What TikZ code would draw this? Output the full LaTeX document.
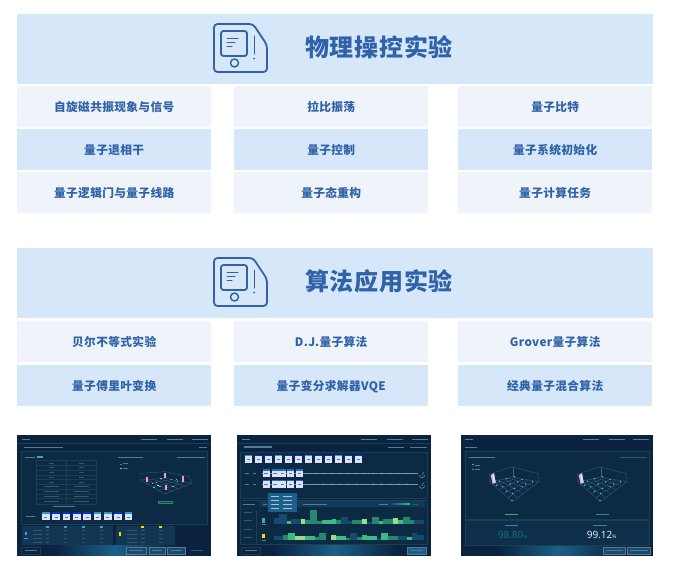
\documentclass[tikz,border=0pt]{standalone}
\usepackage{fontspec}
\newfontfamily\cjk[LetterSpace=3]{Noto Sans CJK SC}
\setmainfont{Noto Sans}
\definecolor{hdr}{HTML}{D5E7F8}
\definecolor{pale}{HTML}{EFF4FB}
\definecolor{ink}{HTML}{2F62A8}
\definecolor{scr}{HTML}{0B2340}
\definecolor{pan}{HTML}{0D2A45}
\definecolor{edge}{HTML}{17414F}
\definecolor{gre}{HTML}{4F7C96}
\definecolor{dkb}{HTML}{164A6E}
\definecolor{teal1}{HTML}{26876F}
\definecolor{grn}{HTML}{3DB985}
\definecolor{lgr}{HTML}{9ADB8E}
\definecolor{tip}{HTML}{1B5F8E}
\definecolor{glow}{HTML}{1C5F88}
\tikzset{
 band/.style={fill=hdr,draw=none,minimum width=636pt,minimum height=70pt,inner sep=0pt,anchor=north west},
 title/.style={font=\cjk\bfseries\fontsize{24}{26}\selectfont,text=ink,inner sep=0pt},
 cellbox/.style={draw=none,minimum width=194pt,minimum height=41pt,inner sep=0pt,anchor=north west,font=\cjk\bfseries\fontsize{11.7}{13}\selectfont,text=ink,text height=9pt,text depth=0.2pt},
 lite/.style={cellbox,fill=pale},
 deep/.style={cellbox,fill=hdr},
 iconl/.style={draw=ink,line width=1.8pt,line join=round,line cap=round},
 greek/.style={draw=gre,line width=0.8pt},
 dim/.style={draw=gre!60!scr,line width=0.8pt},
 panel/.style={draw=edge,fill=pan,line width=0.5pt},
 btn/.style={draw=edge!70!white,fill=dkb,line width=0.5pt},
 gatebox/.style={fill=white!88!blue,draw=none},
 gridl/.style={draw=gre!70!scr,line width=0.3pt},
 qgrid/.pic={
  \draw[gridl] (-70,-15)--(-70,-38)--(0,-60)--(78,-38)--(78,-15);
  \draw[gridl] (0,-60)--(0,-28);
  \foreach \i in {0,...,5}{
   \draw[gridl] ({-70+\i*14},{-15+\i*12})--({0+\i*15.6},{-28+\i*2.6});
   \draw[gridl] ({-70+\i*14},{-15-\i*2.6})--({0+\i*15.6},{45-\i*12});
  }
  \foreach \a/\b in {-40/-16,-18/-24,5/-30,28/-22,-30/0,-8/-8,15/-14,38/-8,60/-14,-18/14,5/6,28/0,-2/42,0/20,-48/-4}
   \fill[cyan!70!white] (\a,\b) circle (2.4);
 },
 deviceicon/.pic={
  \draw[iconl,rounded corners=3.5pt] (214,24)--(253,24)--(267,45)--(267,72)--(214,72)--cycle;
  \draw[iconl,rounded corners=2.5pt] (221,31) rectangle (247,56);
  \draw[iconl,line width=1pt] (227,38)--(238,38) (227,42)--(235,42) (227,46)--(232,46);
  \draw[iconl,line width=1.5pt] (234.5,63) circle (4);
  \draw[iconl,line width=1pt] (254,36)--(254,54);
  \fill[ink] (254,58.5) circle (1);
 },
}
\newcommand{\topbar}[4]{%
 \foreach \t in {#1,#2,#3}{\draw[greek] (\t,#4)--++(48,0);}
}
\begin{document}
\begin{tikzpicture}[x=1pt,y=-1pt]
\useasboundingbox (0,0) rectangle (682,573);
\fill[white] (0,0) rectangle (682,573);
% ---------- section 1
\node[band] (h1) at (17,14) {};
\node[title] (h1t) at (379,47.5) {物理操控实验};
\path pic {deviceicon};
\node[lite] (a1) at (17,86) {自旋磁共振现象与信号};
\node[lite] (a2) at (234,86) {拉比振荡};
\node[lite] (a3) at (458,86) {量子比特};
\node[deep] (b1) at (17,129) {量子退相干};
\node[deep] (b2) at (234,129) {量子控制};
\node[deep] (b3) at (458,129) {量子系统初始化};
\node[lite] (c1) at (17,172) {量子逻辑门与量子线路};
\node[lite] (c2) at (234,172) {量子态重构};
\node[lite] (c3) at (458,172) {量子计算任务};
% ---------- section 2
\node[band] (h2) at (17,248) {};
\node[title] (h2t) at (379,281.5) {算法应用实验};
\path pic at (0,234) {deviceicon};
\node[lite] (d1) at (17,321) {贝尔不等式实验};
\node[lite] (d2) at (234,321) {D.J.量子算法};
\node[lite] (d3) at (458,321) {Grover量子算法};
\node[deep] (e1) at (17,365) {量子傅里叶变换};
\node[deep] (e2) at (234,365) {量子变分求解器VQE};
\node[deep] (e3) at (458,365) {经典量子混合算法};
% ---------- screenshot 1
\begin{scope}[shift={(10,430)},x=0.3333pt,y=-0.3333pt]
 \fill[scr] (20,15) rectangle (603,378);
 \shade[left color=scr,right color=scr,middle color=glow] (130,346) rectangle (500,378);
 \draw[greek] (35,29)--(60,29);
 \topbar{393}{470}{545}{29}
 \draw[greek,line width=1.2pt] (43,52)--(160,52);
 \draw[greek] (566,52)--(590,52);
 \draw[edge] (22,40)--(600,40);
 \draw[panel] (35,65) rectangle (592,282);
 \draw[greek] (45,81)--(75,81);
 \fill[cyan!60!gre] (81,77) rectangle (98,85);
 \draw[greek] (323,81)--(400,81);
 \draw[greek] (500,81)--(585,81);
 \fill[gre] (331,101) rectangle (335,105); \draw[greek] (340,101)--(354,101);
 \fill[cyan!70!white] (331,114) rectangle (335,118); \draw[greek] (340,115)--(354,115);
 \draw[edge] (80,92) rectangle (258,222);
 \foreach \y in {106,120,135,149,163,177,192,206}{\draw[edge] (80,\y)--(258,\y);}
 \draw[edge] (169,92)--(169,222);
 \foreach \y/\w in {99/7,113/7,127/7,142/7,156/7,170/22,185/22,199/22,213/22}{
  \draw[dim] ({125-\w},\y)--({125+\w},\y);
  \draw[dim] ({214-\w},\y)--({214+\w},\y);
 }
 \draw[greek] (130,229)--(196,229);
 \draw[greek] (48,259)--(75,259);
 \foreach \x/\c in {96/cyan,127/blue,158/blue,189/blue,220/blue,251/cyan,282/cyan,313/blue,344/cyan}{
  \fill[gatebox] (\x,250) rectangle ++(23,21);
  \fill[\c!60!teal] (\x,247) rectangle ++(23,4);
  \draw[gre,line width=0.7pt] ({\x+7},261)--({\x+16},261);
 }
 % 3D grid with bars
 \begin{scope}[gridl]
  \draw (390,130)--(465,125)--(538,140)--(545,160)--(465,192)--(390,150)--cycle;
  \draw (390,150)--(465,145)--(545,160) (465,125)--(465,145);
  \foreach \i in {1,2,3}{\draw ({390+\i*19},{150+\i*10.5})--({465+\i*20},{145+\i*3.7});
   \draw ({390+\i*19},{150-\i*1.2})--({465+\i*20},{192-\i*8});}
 \end{scope}
 \foreach \x/\y/\h in {411/140/17,465/130/13,519/139/16,468/165/15}{\fill[magenta!40!white] (\x-3,\y) rectangle (\x+3,\y+\h);}
 \foreach \x/\y in {425/160,437/155,450/143,482/146,497/146,447/167,487/167,430/170,500/153}{\fill[cyan!70!white] (\x,\y) rectangle ++(5,2);}
 \fill[magenta!40!white] (440,166) rectangle ++(6,3);
 \draw[draw=teal1,fill=teal1!30!scr] (445,213) rectangle (487,221);
 % lower panels
 \fill[dkb!40!pan] (35,288) rectangle (308,345);
 \fill[dkb!40!pan] (318,288) rectangle (495,345);
 \fill[cyan!60!gre] (46,306) rectangle (51,316);\draw[cyan!60!gre,line width=.6pt] (42,325)--(55,325);
 \foreach \x in {108,162,215,270}{\fill[cyan!60!gre] (\x,287) rectangle ++(10,8);}
 \fill[yellow!75!orange] (327,307) rectangle (334,317);
 \foreach \x in {392,446}{\fill[yellow!75!orange] (\x,287) rectangle ++(10,8);}
 \foreach \y in {301,312,324,338}{
  \draw[dim] (68,\y)--(95,\y);
  \foreach \x in {108,162,215,270}{\draw[dim] (\x,\y)--(\x+10,\y);}
  \draw[dim] (350,\y)--(380,\y);
  \foreach \x in {392,446}{\draw[dim] (\x,\y)--(\x+12,\y);}
 }
 \draw[edge,fill=scr] (35,353) rectangle (92,372); \draw[greek] (45,362)--(80,362);
 \foreach \a/\b in {348/408,417/465,473/527}{\draw[btn] (\a,353) rectangle (\b,372); \draw[greek] (\a+10,362)--(\b-10,362);}
 \draw[dim] (543,362)--(580,362);
\end{scope}
% ---------- screenshot 2
\begin{scope}[shift={(230,430)},x=0.3333pt,y=-0.3333pt]
 \fill[scr] (20,15) rectangle (603,378);
 \shade[left color=scr,right color=scr,middle color=glow] (130,346) rectangle (500,378);
 \draw[greek] (35,29)--(60,29);
 \topbar{393}{470}{545}{29}
 \draw[greek,line width=1.2pt] (43,51)--(125,51);
 \draw[greek] (473,51)--(522,51) (540,51)--(590,51);
 \draw[edge] (22,40)--(600,40);
 \draw[panel] (32,66) rectangle (592,205);
 \draw[panel] (32,210) rectangle (592,342);
 \foreach \x/\c in {45/cyan,75/blue,105/blue,135/cyan,165/blue,195/blue,225/cyan,255/blue,285/blue,315/cyan,345/blue,375/blue}{
  \fill[gatebox] (\x,77) rectangle ++(22,21);
  \fill[\c!60!teal] (\x,75) rectangle ++(22,4);
  \draw[gre,line width=0.7pt] ({\x+6},89)--({\x+16},89);
 }
 \foreach \y/\n in {130/p,162/q}{
  \draw[gre!80!white,line width=0.7pt] (95,\y)--(565,\y);
  \draw[greek] (45,\y)--(57,\y) (68,\y)--(78,\y);
  \foreach \x in {98,125,148,172,198}{
   \fill[gatebox] (\x,{\y-10}) rectangle ++(21,21);
   \fill[cyan!50!blue] (\x,{\y-12}) rectangle ++(21,4);
   \draw[gre,line width=0.7pt] ({\x+5},{\y+1})--({\x+15},{\y+1});
  }
  \foreach \x in {255,280,305,330,355,380,405,430,455,480,505,530}{\fill[white!70!gre] (\x,\y) circle (1.3);}
  \draw[gre!90!white,line width=0.6pt] (568,{\y+5}) arc (180:0:8);
  \draw[gre!90!white,line width=0.6pt] (576,{\y+5})--(581,{\y-4});
 }
 \fill[dkb!50!pan] (90,213) rectangle (585,232);
 \draw[greek] (40,222)--(75,222);
 \draw[greek] (100,222)--(112,222) (218,222)--(290,222) (448,222)--(475,222);
 \shade[left color=dkb,right color=grn] (482,219) rectangle (540,224);
 \draw[dim] (548,222)--(565,222);
 \foreach \y in {246,272,297,323}{\draw[dim] (42,\y)--(66,\y);}
 \draw[edge] (80,240)--(80,338);
 \fill[cyan!60!gre] (96,265) rectangle (106,280); \draw[greek] (95,284)--(108,284);
 \fill[yellow!75!orange] (96,312) rectangle (105,325); \draw[greek] (95,330)--(108,330);
 \foreach \a/\b/\h/\c in {133/148/18/dkb,148/170/30/dkb,170/183/10/grn,183/212/15/dkb,212/225/17/lgr,225/240/12/teal1,240/262/44/teal1,262/275/10/teal1,275/305/14/grn,305/318/17/grn,318/333/12/teal1,333/355/22/dkb,355/367/10/dkb,367/396/14/teal1,396/410/17/lgr,410/425/7/dkb,425/447/22/teal1,447/460/10/grn,460/490/15/teal1,490/503/18/lgr,503/518/12/grn,518/540/22/teal1,540/553/14/teal1,553/582/14/dkb}{
  \fill[\c] (\a,283) rectangle (\b,283-\h);
 }
 \foreach \a/\b/\h/\c in {133/160/12/dkb,160/175/17/teal1,175/196/22/grn,196/225/12/lgr,225/255/13/grn,255/267/9/teal1,267/289/22/teal1,304/318/16/lgr,318/347/12/grn,347/360/8/teal1,360/381/22/dkb,381/396/9/teal1,396/410/17/grn,410/440/12/grn,440/452/8/dkb,452/474/22/grn,474/504/12/teal1,504/531/12/dkb,531/545/9/grn,545/562/22/dkb,562/582/15/dkb}{
  \fill[\c] (\a,331) rectangle (\b,331-\h);
 }
 \fill[tip] (115,190) rectangle (200,246);
 \foreach \y in {199,211,222,235}{\draw[white!55!gre,line width=.5pt] (123,\y)--(148,\y) (160,\y)--(185,\y);}
 \draw[edge,fill=scr] (35,353) rectangle (92,372); \draw[greek] (45,362)--(80,362);
 \draw[btn,fill=tip] (532,352) rectangle (590,372); \draw[greek] (542,362)--(580,362);
\end{scope}
% ---------- screenshot 3
\begin{scope}[shift={(450,430)},x=0.3333pt,y=-0.3333pt]
 \fill[scr] (33,15) rectangle (610,378);
 \shade[left color=scr,right color=scr,middle color=glow] (140,346) rectangle (510,378);
 \draw[greek] (45,29)--(70,29);
 \topbar{400}{477}{550}{29}
 \draw[greek,line width=1.2pt] (45,52)--(82,52);
 \draw[panel] (45,65) rectangle (597,268);
 \draw[edge,fill=dkb!15!pan] (45,272) rectangle (597,345);
 \draw[greek] (58,81)--(135,81);
 \draw[dim] (510,81)--(590,81);
 \fill[magenta!40!white] (69,104) circle (2.4); \draw[greek] (75,105)--(90,105);
 \fill[cyan!70!white] (69,118) circle (2.4); \draw[greek] (75,119)--(90,119);
 \path pic at (188,170) {qgrid};
 \path pic at (452,170) {qgrid};
 \fill[magenta!35!white] (122,135) -- (132,130) -- (137,158) -- (128,162) -- cycle;
 \fill[cyan!25!white] (127,133) -- (132,130) -- (137,158) -- (132,160) -- cycle;
 \fill[magenta!35!white] (386,135) -- (396,130) -- (401,158) -- (392,162) -- cycle;
 \fill[cyan!25!white] (391,133) -- (396,130) -- (401,158) -- (396,160) -- cycle;
 \draw[teal1!80!white,line width=.8pt] (165,253)--(205,253);
 \draw[greek] (438,253)--(478,253);
 \draw[greek] (165,285)--(205,285);
 \draw[greek] (430,285)--(472,285);
 \node[text=dkb!80!cyan,font=\fontsize{10}{11}\selectfont,inner sep=0pt] (v1) at (188,315) {98.80\scalebox{0.5}{\%}};
 \node[text=white!85!gre,font=\fontsize{10}{11}\selectfont,inner sep=0pt] (v2) at (455,315) {99.12\scalebox{0.5}{\%}};
 \foreach \a/\b in {460/525,532/600}{\draw[btn] (\a,352) rectangle (\b,372); \draw[greek] (\a+7,362)--(\b-7,362);}
\end{scope}
\end{tikzpicture}
\end{document}
